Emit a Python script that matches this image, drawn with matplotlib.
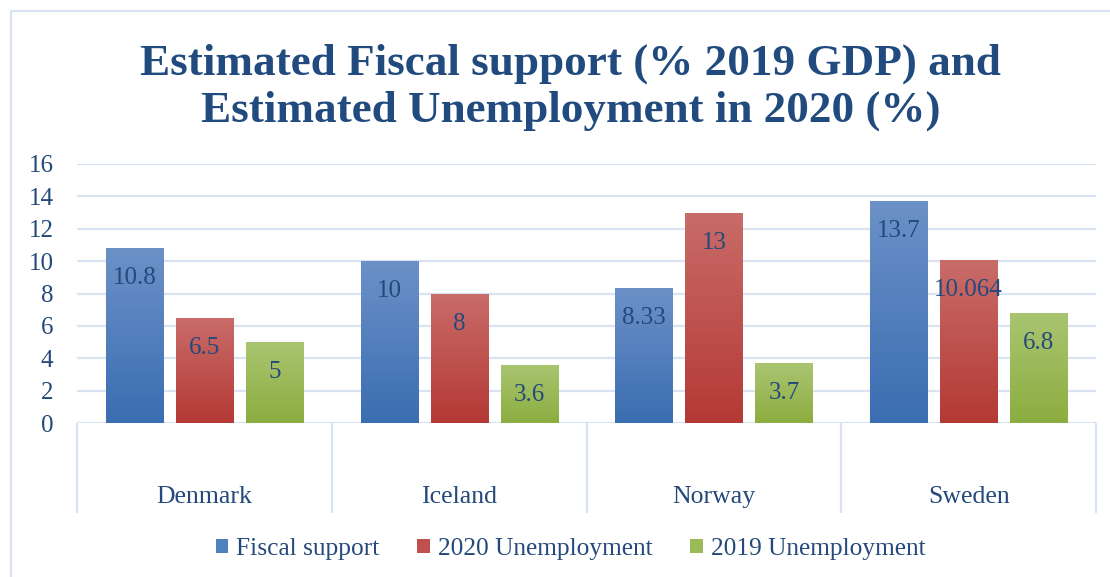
import numpy as np
import matplotlib.pyplot as plt
from matplotlib.patches import Patch, Rectangle
from matplotlib.colors import LinearSegmentedColormap

countries = ["Denmark", "Iceland", "Norway", "Sweden"]
fiscal_support = [10.8, 10, 8.33, 13.7]
unemp_2020 = [6.5, 8, 13, 10.064]
unemp_2019 = [5, 3.6, 3.7, 6.8]
labels_fiscal = ["10.8", "10", "8.33", "13.7"]
labels_2020 = ["6.5", "8", "13", "10.064"]
labels_2019 = ["5", "3.6", "3.7", "6.8"]
series_names = ["Fiscal support", "2020 Unemployment", "2019 Unemployment"]
yticks = [0, 2, 4, 6, 8, 10, 12, 14, 16]

# (top, bottom) gradient colours per series
grads = [("#6c91c8", "#3a6db1"), ("#c96c69", "#b43935"), ("#aac571", "#8cad40")]
solid = ["#4f81bd", "#c0504d", "#9bbb59"]
text_col = "#24497a"
grid_col = "#d9e3f2"
font = "Liberation Serif"

plt.rcParams["font.family"] = font

fig = plt.figure(figsize=(11.1, 5.77), dpi=100)
W, H = 1110, 577
ax = fig.add_axes([77 / W, 1 - 423 / H, (1096 - 77) / W, (423 - 164) / H])

# outer chart frame
fig.patches.append(Rectangle((11 / W, -0.1), 1.2, 1 - 11 / H + 0.1, transform=fig.transFigure,
                             fill=False, edgecolor=grid_col, linewidth=1.5))

x = np.arange(len(countries))
bw = 0.224
step = 0.275
all_series = [fiscal_support, unemp_2020, unemp_2019]
all_labels = [labels_fiscal, labels_2020, labels_2019]

for i, (vals, labs) in enumerate(zip(all_series, all_labels)):
    pos = x + (i - 1) * step
    bars = ax.bar(pos, vals, width=bw, color=solid[i], zorder=3)
    cmap = LinearSegmentedColormap.from_list("g%d" % i, [grads[i][1], grads[i][0]])
    grad = np.linspace(0, 1, 256).reshape(-1, 1)
    for b in bars:
        x0, w, h = b.get_x(), b.get_width(), b.get_height()
        im = ax.imshow(grad, cmap=cmap, aspect="auto", origin="lower",
                       extent=(x0, x0 + w, 0, h), zorder=4)
        im.set_clip_path(b)
    for p, v, s in zip(pos, vals, labs):
        ax.annotate(s, (p, v), xytext=(0, -26), textcoords="offset points",
                    ha="center", va="baseline", fontsize=18, color=text_col, zorder=5)

ax.set_xlim(-0.5, 3.5)
ax.set_ylim(0, 16)
ax.set_yticks(yticks)
ax.set_yticklabels([str(t) for t in yticks])
ax.tick_params(axis="y", length=0, pad=17, labelsize=18, labelcolor=text_col)
ax.set_xticks([])
ax.grid(axis="y", color=grid_col, linewidth=1.6, zorder=0)
ax.set_axisbelow(True)
for s in ax.spines.values():
    s.set_visible(False)

# category boxes below the axis
ax.vlines(np.arange(-0.5, 4.0, 1.0), -5.56, 0, colors=grid_col, linewidth=1.6, clip_on=False)
for i, c in enumerate(countries):
    ax.text(i, -4.6, c, ha="center", va="center", fontsize=18.5, color=text_col, clip_on=False)

fig.text(0.514, 1 - 87 / H, "Estimated Fiscal support (% 2019 GDP) and\nEstimated Unemployment in 2020 (%)",
         ha="center", va="center", fontsize=32.5, fontweight="bold", color="#214b7e", linespacing=1.2)

handles = [Patch(facecolor=solid[i], edgecolor="none") for i in range(3)]
fig.legend(handles, series_names, loc="center", bbox_to_anchor=(0.514, 1 - 549 / H), ncol=3,
           frameon=False, fontsize=18.3, labelcolor=text_col, handlelength=0.5, handleheight=0.5,
           handletextpad=0.3, columnspacing=1.5)

fig.savefig("out.png", dpi=100)
